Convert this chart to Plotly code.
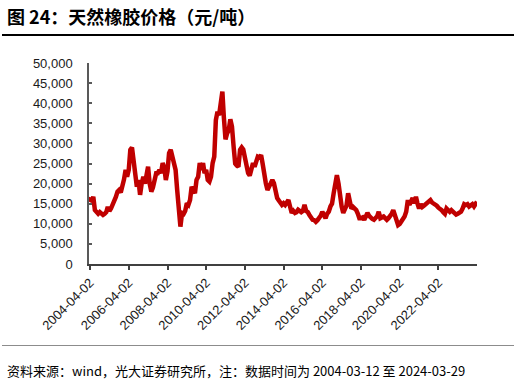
import pandas as pd
import plotly.graph_objects as go

title_text = "图 24：天然橡胶价格（元/吨）"
source_text = "资料来源：wind，光大证券研究所，注：数据时间为 2004-03-12 至 2024-03-29"

start_date = "2004-03-12"
end_date = "2024-03-29"

# monthly readings (元/吨), 2004-03 ... 2024-03
p2004 = [15500, 16000, 15800, 16700, 13400, 12700, 12500, 12900, 12600, 12200]
p2005 = [12500, 12900, 14200, 13200, 13800, 14700, 15500, 16700, 18000, 18400, 17800, 19200]
p2006 = [21000, 23400, 21700, 23400, 28400, 29000, 25100, 20900, 19200, 20900, 17200, 20000]
p2007 = [21700, 20000, 22600, 24200, 20000, 18000, 19000, 20900, 22600, 22600, 23400, 22600]
p2008 = [25100, 24000, 20900, 23000, 27600, 28400, 26700, 24500, 23400, 18400, 12700, 9300]
p2009 = [12700, 12500, 13200, 15100, 14700, 15900, 19200, 18400, 17600, 20900, 21700, 25100]
p2010 = [23400, 25100, 22600, 23400, 20900, 20500, 21700, 25100, 26700, 35800, 37900, 37000]
p2011 = [40000, 42900, 36500, 31000, 32500, 33300, 36000, 34200, 29200, 25000, 24500, 24200]
p2012 = [28400, 29000, 28500, 26000, 24000, 22600, 22000, 23400, 25100, 24200, 25900, 26700]
p2013 = [26500, 27100, 25000, 22000, 20100, 18400, 19200, 20500, 20900, 20100, 17600, 16400]
p2014 = [15800, 15100, 14700, 15100, 14700, 15300, 15900, 14300, 12700, 13200, 12700, 12900]
p2015 = [13500, 13200, 12900, 13200, 14700, 13200, 12900, 12200, 11600, 11000, 10900, 10500]
p2016 = [10900, 11300, 12000, 13000, 12200, 11400, 12500, 13000, 14300, 15000, 17600, 20500]
p2017 = [22100, 20000, 16700, 14300, 12700, 13400, 14500, 17600, 16000, 13800, 14200, 13800]
p2018 = [13400, 12500, 11400, 11400, 11600, 11000, 11800, 12700, 12000, 11400, 11200, 11000]
p2019 = [11500, 11900, 13000, 11400, 11600, 11800, 11400, 11000, 11400, 11800, 12500, 13400]
p2020 = [12200, 10200, 9700, 10000, 10500, 11000, 11800, 13000, 15900, 14700, 15500, 16400]
p2021 = [15100, 16700, 15100, 13800, 14900, 14200, 14500, 14800, 15100, 15300, 15900, 15300]
p2022 = [15100, 14800, 14500, 14000, 13800, 13400, 12900, 12500, 13800, 13200, 13000, 13400]
p2023 = [12900, 12500, 12300, 12500, 12800, 13000, 13800, 14900, 14700, 14900, 14300, 14500]
p2024 = [14900, 14300, 15500]

prices = (p2004 + p2005 + p2006 + p2007 + p2008 + p2009 + p2010 + p2011 + p2012
          + p2013 + p2014 + p2015 + p2016 + p2017 + p2018 + p2019 + p2020 + p2021
          + p2022 + p2023 + p2024)

dates = list(pd.date_range("2004-03-01", periods=len(prices), freq="MS"))
dates[0] = pd.Timestamp(start_date)
dates[-1] = pd.Timestamp(end_date)

x_ticks = ["2004-04-02", "2006-04-02", "2008-04-02", "2010-04-02", "2012-04-02",
           "2014-04-02", "2016-04-02", "2018-04-02", "2020-04-02", "2022-04-02"]
y_ticks = [0, 5000, 10000, 15000, 20000, 25000, 30000, 35000, 40000, 45000, 50000]
y_labels = ["0", "5,000", "10,000", "15,000", "20,000", "25,000", "30,000",
            "35,000", "40,000", "45,000", "50,000"]

W, H = 516, 381
# plot area in pixels
PL, PR, PT, PB = 89, 477, 63, 264

def fx(p):
    return p / W

def fy(p):
    return (H - p) / H

fig = go.Figure()
fig.add_trace(go.Scatter(x=dates, y=prices, mode="lines",
                         line=dict(color="#C00000", width=4.5), hoverinfo="skip"))

tick_font = dict(family="Liberation Sans, Arial, sans-serif", size=13, color="#1a1a1a")

def rule(ypix, color, thickness):
    return dict(text=" ", xref="paper", yref="paper",
                x=fx(2), y=fy(ypix), xanchor="left", yanchor="middle",
                showarrow=False, width=512, height=thickness,
                borderpad=0, borderwidth=0, bgcolor=color,
                font=dict(size=1, color=color))

fig.update_layout(
    width=W, height=H,
    margin=dict(l=0, r=0, t=0, b=0, pad=0),
    paper_bgcolor="white", plot_bgcolor="white",
    showlegend=False,
    xaxis=dict(
        domain=[fx(PL), fx(PR)],
        type="date", range=[start_date, end_date],
        tickmode="array", tickvals=x_ticks, ticktext=x_ticks,
        tickangle=-45, tickfont=tick_font,
        ticks="outside", ticklen=4, tickcolor="#404040", tickwidth=1.5,
        showline=True, linecolor="#404040", linewidth=2,
        showgrid=False, zeroline=False, automargin=False,
    ),
    yaxis=dict(
        domain=[fy(PB), fy(PT)],
        range=[0, 50000],
        tickmode="array", tickvals=y_ticks, ticktext=y_labels,
        tickfont=tick_font,
        ticks="inside", ticklen=3, tickcolor="#595959", tickwidth=1.5,
        showline=True, linecolor="#595959", linewidth=1.5,
        showgrid=False, zeroline=False, automargin=False,
        ticklabelstandoff=12,
    ),
    annotations=[
        dict(text=title_text, xref="paper", yref="paper",
             x=fx(5), y=fy(16), xanchor="left", yanchor="middle",
             showarrow=False,
             font=dict(family="Noto Sans CJK SC", size=18, color="#000000", weight="bold")),
        dict(text=source_text, xref="paper", yref="paper",
             x=fx(5), y=fy(370), xanchor="left", yanchor="middle",
             showarrow=False,
             font=dict(family="Noto Sans CJK SC", size=13, color="#000000")),
        rule(35, "#000000", 1.5),
        rule(345, "#8c8c8c", 1),
    ],
)

fig.write_html("out.html", config={"displayModeBar": False},
               post_script="document.body.style.margin='0px';document.body.style.padding='0px';")
